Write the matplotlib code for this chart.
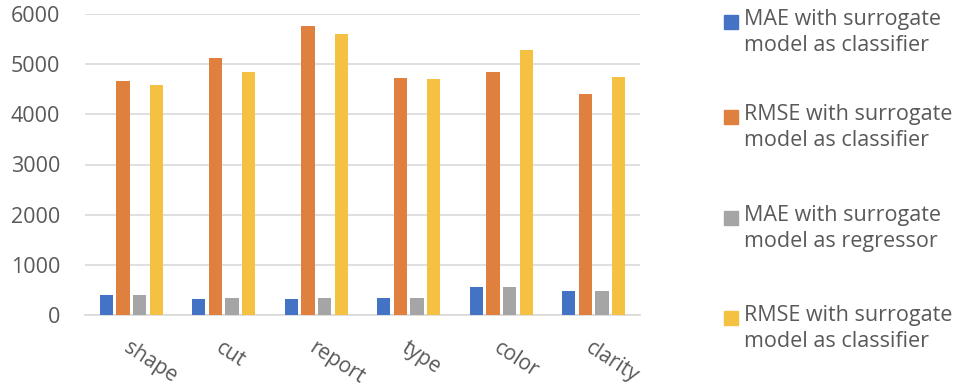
import matplotlib
matplotlib.use("Agg")
import matplotlib.pyplot as plt
from matplotlib.patches import Rectangle
import numpy as np

categories = ["shape", "cut", "report", "type", "color", "clarity"]
mae_classifier = [405, 325, 325, 333, 558, 484]
rmse_classifier = [4658, 5123, 5760, 4724, 4843, 4411]
mae_regressor = [400, 330, 330, 340, 552, 484]
rmse_classifier_2 = [4578, 4838, 5595, 4698, 5288, 4744]

series_labels = [
    "MAE with surrogate\nmodel as classifier",
    "RMSE with surrogate\nmodel as classifier",
    "MAE with surrogate\nmodel as regressor",
    "RMSE with surrogate\nmodel as classifier",
]
series = [mae_classifier, rmse_classifier, mae_regressor, rmse_classifier_2]
colors = ["#4472C4", "#E0803F", "#A5A5A5", "#F4C142"]
yticks = [0, 1000, 2000, 3000, 4000, 5000, 6000]

plt.rcParams["font.family"] = ["Open Sans", "DejaVu Sans"]
text_color = "#595959"

W, H = 959, 387
fig = plt.figure(figsize=(W / 100, H / 100), dpi=100)
ax = fig.add_axes([85 / W, 1 - 315 / H, (640 - 85) / W, (315 - 14) / H])

x = np.arange(len(categories))
step = 0.18
width = 0.145
for i, (vals, col) in enumerate(zip(series, colors)):
    ax.bar(x + (i - 1.5) * step, vals, width=width, color=col, zorder=3)

ax.set_xlim(-0.5, len(categories) - 0.5)
ax.set_ylim(0, 6000)
ax.set_yticks(yticks)
ax.set_yticklabels([str(t) for t in yticks], fontsize=15.5, color=text_color)
ax.yaxis.grid(True, color="#D9D9D9", linewidth=1.2, zorder=0)
ax.set_axisbelow(True)
for s in ["top", "right", "left"]:
    ax.spines[s].set_visible(False)
ax.spines["bottom"].set_color("#D9D9D9")
ax.spines["bottom"].set_linewidth(1.2)
ax.tick_params(axis="y", length=0, pad=18)
ax.tick_params(axis="x", length=0, pad=16)

ax.set_xticks(x)
ax.set_xticklabels(categories, fontsize=15, color=text_color,
                   rotation=-33, ha="left", va="top", rotation_mode="anchor")

# legend drawn at the right side
entry_tops = [22, 117, 218, 318]
for top, col, lab in zip(entry_tops, colors, series_labels):
    sq = 14
    fig.patches.append(Rectangle((724 / W, 1 - (top + sq / 2) / H), sq / W, sq / H,
                                 transform=fig.transFigure, color=col))
    fig.text(744 / W, 1 - (top - 13) / H, lab, fontsize=15.5, color=text_color,
             ha="left", va="top", linespacing=1.3)

fig.savefig("out.png", dpi=100)
